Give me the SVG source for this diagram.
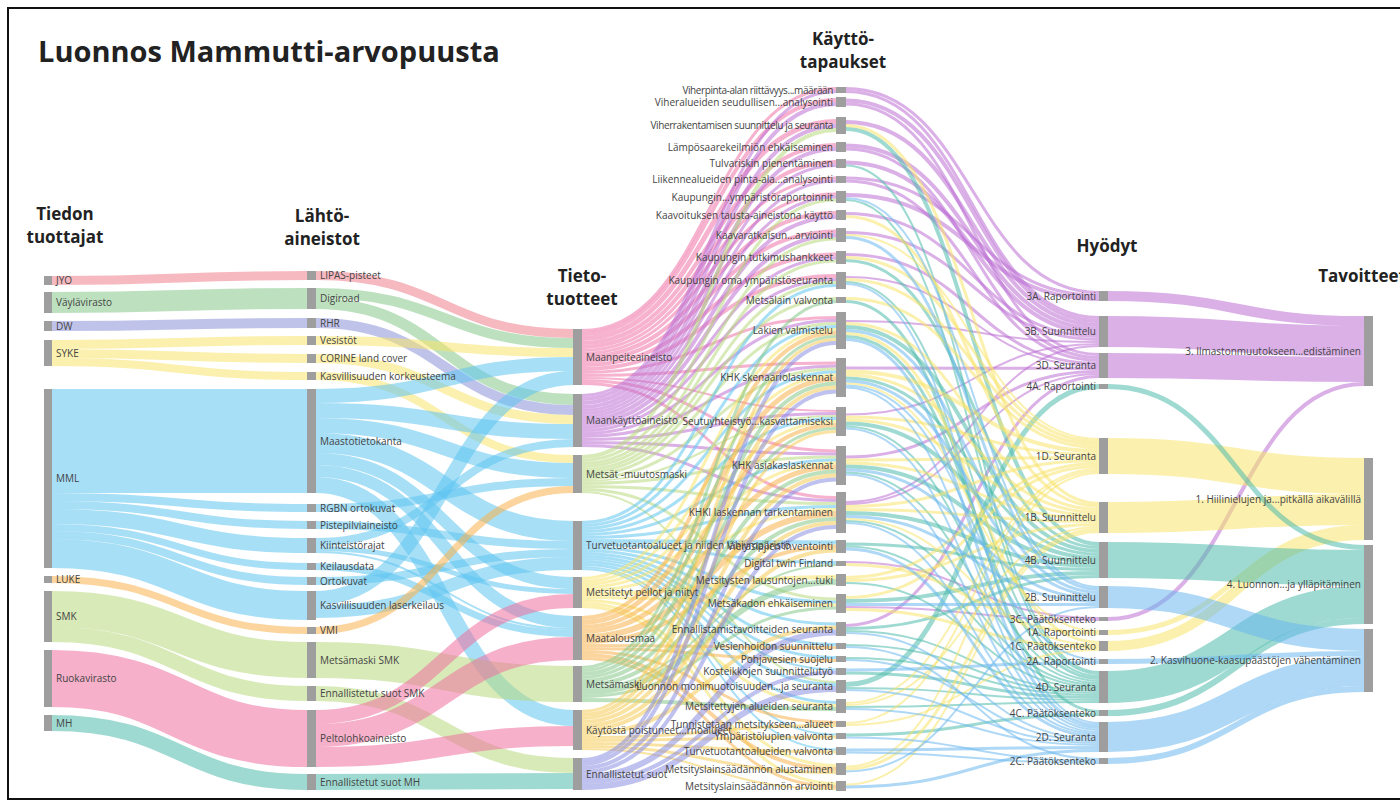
<svg xmlns="http://www.w3.org/2000/svg" width="1400" height="802" viewBox="0 0 1400 802">
<style>
.nd{fill:#9e9e9e}
.lb{font-family:"Open Sans","Noto Sans",sans-serif;font-size:10px;fill:#444}
.sm{letter-spacing:-0.4px}
.r{text-anchor:end}
.hd{font-family:"Open Sans","Noto Sans",sans-serif;font-size:17px;font-weight:bold;fill:#222;text-anchor:middle}
.ttl{font-family:"Open Sans","Noto Sans",sans-serif;font-size:29px;font-weight:bold;fill:#222}
path{fill:none;stroke-opacity:0.55}
.jyo{stroke:#f07f8c}.vay{stroke:#86c98a}.dw{stroke:#8a92d8}.syke{stroke:#f8e36a}.mml{stroke:#5ec4f0}
.luke{stroke:#f8b24c}.smk{stroke:#b8d87e}.ruoka{stroke:#ef6f9e}.mh{stroke:#4fbcab}
.pA{stroke:#ee73a6}.pB{stroke:#bb6fd3}.pC{stroke:#b8d87e}.pD{stroke:#5ec4f0}.pE{stroke:#f8e36a}
.pF{stroke:#f8b24c}.pG{stroke:#86c98a}.pH{stroke:#f5cc55}.pI{stroke:#8a8ee0}
.h3{stroke:#bb6fd3}.h1{stroke:#f8e36a}.h4{stroke:#4fbcab}.h2{stroke:#6cb8ee}
</style>
<rect x="0" y="0" width="1400" height="802" fill="#fff"/>
<rect x="8" y="8" width="1400" height="791" fill="none" stroke="#111" stroke-width="2"/>
<text class="ttl" x="38" y="62">Luonnos Mammutti-arvopuusta</text>
<g id="headers">
<text class="hd" x="65" y="220">Tiedon</text><text class="hd" x="65" y="243">tuottajat</text>
<text class="hd" x="322" y="222">Lähtö-</text><text class="hd" x="322" y="245">aineistot</text>
<text class="hd" x="582" y="282">Tieto-</text><text class="hd" x="582" y="305">tuotteet</text>
<text class="hd" x="843" y="45">Käyttö-</text><text class="hd" x="843" y="68">tapaukset</text>
<text class="hd" x="1107" y="252">Hyödyt</text>
<text class="hd" x="1362" y="282">Tavoitteet</text>
</g>
<g id="connectors">
<g id="l12">
<path class="jyo" stroke-width="9" d="M52 280.5C179.5 280.5 179.5 275.5 307 275.5"/>
<path class="vay" stroke-width="21" d="M52 302.5C179.5 302.5 179.5 298.5 307 298.5"/>
<path class="dw" stroke-width="10" d="M52 326C179.5 326 179.5 323 307 323"/>
<path class="syke" stroke-width="9" d="M52 344.5C179.5 344.5 179.5 340.5 307 340.5"/>
<path class="syke" stroke-width="9" d="M52 353.5C179.5 353.5 179.5 358.5 307 358.5"/>
<path class="syke" stroke-width="8" d="M52 362C179.5 362 179.5 376 307 376"/>
<path class="mml" stroke-width="104" d="M52 441C179.5 441 179.5 441 307 441"/>
<path class="mml" stroke-width="8" d="M52 497C179.5 497 179.5 508 307 508"/>
<path class="mml" stroke-width="8" d="M52 505C179.5 505 179.5 525 307 525"/>
<path class="mml" stroke-width="15" d="M52 516.5C179.5 516.5 179.5 545.5 307 545.5"/>
<path class="mml" stroke-width="7" d="M52 527.5C179.5 527.5 179.5 566.5 307 566.5"/>
<path class="mml" stroke-width="8" d="M52 535C179.5 535 179.5 581 307 581"/>
<path class="mml" stroke-width="29" d="M52 553.5C179.5 553.5 179.5 605.5 307 605.5"/>
<path class="luke" stroke-width="7" d="M52 579.5C179.5 579.5 179.5 630.5 307 630.5"/>
<path class="smk" stroke-width="36" d="M52 609C179.5 609 179.5 660 307 660"/>
<path class="smk" stroke-width="15" d="M52 634.5C179.5 634.5 179.5 693.5 307 693.5"/>
<path class="ruoka" stroke-width="57" d="M52 678.5C179.5 678.5 179.5 738.5 307 738.5"/>
<path class="mh" stroke-width="16" d="M52 723C179.5 723 179.5 782 307 782"/>
</g>
<g id="l23">
<path class="jyo" stroke-width="9" d="M316 275.5C444.5 275.5 444.5 333.5 573 333.5"/>
<path class="vay" stroke-width="10" d="M316 293C444.5 293 444.5 343 573 343"/>
<path class="vay" stroke-width="11" d="M316 303.5C444.5 303.5 444.5 399.5 573 399.5"/>
<path class="dw" stroke-width="10" d="M316 323C444.5 323 444.5 410 573 410"/>
<path class="syke" stroke-width="9" d="M316 340.5C444.5 340.5 444.5 352.5 573 352.5"/>
<path class="syke" stroke-width="9" d="M316 358.5C444.5 358.5 444.5 419.5 573 419.5"/>
<path class="syke" stroke-width="8" d="M316 376C444.5 376 444.5 459 573 459"/>
<path class="mml" stroke-width="14" d="M316 396C444.5 396 444.5 364 573 364"/>
<path class="mml" stroke-width="15" d="M316 410.5C444.5 410.5 444.5 431.5 573 431.5"/>
<path class="mml" stroke-width="15" d="M316 425.5C444.5 425.5 444.5 470.5 573 470.5"/>
<path class="mml" stroke-width="20" d="M316 443C444.5 443 444.5 531 573 531"/>
<path class="mml" stroke-width="12" d="M316 459C444.5 459 444.5 583 573 583"/>
<path class="mml" stroke-width="12" d="M316 471C444.5 471 444.5 622 573 622"/>
<path class="mml" stroke-width="16" d="M316 485C444.5 485 444.5 718 573 718"/>
<path class="mml" stroke-width="8" d="M316 508C444.5 508 444.5 482 573 482"/>
<path class="mml" stroke-width="8" d="M316 525C444.5 525 444.5 545 573 545"/>
<path class="mml" stroke-width="8" d="M316 542C444.5 542 444.5 443 573 443"/>
<path class="mml" stroke-width="5" d="M316 548.5C444.5 548.5 444.5 591.5 573 591.5"/>
<path class="mml" stroke-width="2" d="M316 552C444.5 552 444.5 629 573 629"/>
<path class="mml" stroke-width="7" d="M316 566.5C444.5 566.5 444.5 633.5 573 633.5"/>
<path class="mml" stroke-width="8" d="M316 581C444.5 581 444.5 553 573 553"/>
<path class="mml" stroke-width="14" d="M316 598C444.5 598 444.5 378 573 378"/>
<path class="mml" stroke-width="13" d="M316 611.5C444.5 611.5 444.5 563.5 573 563.5"/>
<path class="luke" stroke-width="7" d="M316 630.5C444.5 630.5 444.5 489.5 573 489.5"/>
<path class="smk" stroke-width="36" d="M316 660C444.5 660 444.5 684 573 684"/>
<path class="smk" stroke-width="15" d="M316 693.5C444.5 693.5 444.5 765.5 573 765.5"/>
<path class="ruoka" stroke-width="14" d="M316 717C444.5 717 444.5 601 573 601"/>
<path class="ruoka" stroke-width="23" d="M316 735.5C444.5 735.5 444.5 648.5 573 648.5"/>
<path class="ruoka" stroke-width="20" d="M316 757C444.5 757 444.5 736 573 736"/>
<path class="mh" stroke-width="16" d="M316 782C444.5 782 444.5 781 573 781"/>
</g>
<g id="l34">
<path class="pA" stroke-width="3" d="M582 330.5C709 330.5 709 88.5 836 88.5"/>
<path class="pA" stroke-width="4" d="M582 334C709 334 709 100 836 100"/>
<path class="pA" stroke-width="5" d="M582 338.5C709 338.5 709 121.5 836 121.5"/>
<path class="pA" stroke-width="4" d="M582 343C709 343 709 145 836 145"/>
<path class="pA" stroke-width="4" d="M582 347C709 347 709 162 836 162"/>
<path class="pA" stroke-width="3" d="M582 350.5C709 350.5 709 178 836 178"/>
<path class="pA" stroke-width="3" d="M582 353.5C709 353.5 709 194 836 194"/>
<path class="pA" stroke-width="4" d="M582 357C709 357 709 213 836 213"/>
<path class="pA" stroke-width="4" d="M582 361C709 361 709 231.5 836 231.5"/>
<path class="pA" stroke-width="4" d="M582 365C709 365 709 254.5 836 254.5"/>
<path class="pA" stroke-width="4" d="M582 369C709 369 709 276 836 276"/>
<path class="pA" stroke-width="3" d="M582 372.5C709 372.5 709 317.5 836 317.5"/>
<path class="pA" stroke-width="3" d="M582 375.5C709 375.5 709 363 836 363"/>
<path class="pA" stroke-width="2" d="M582 378C709 378 709 411 836 411"/>
<path class="pA" stroke-width="3" d="M582 380.5C709 380.5 709 451 836 451"/>
<path class="pA" stroke-width="3" d="M582 383.5C709 383.5 709 497.5 836 497.5"/>
<path class="pB" stroke-width="3" d="M582 395.5C709 395.5 709 91.5 836 91.5"/>
<path class="pB" stroke-width="4" d="M582 399C709 399 709 104 836 104"/>
<path class="pB" stroke-width="4" d="M582 403C709 403 709 126 836 126"/>
<path class="pB" stroke-width="4" d="M582 407C709 407 709 149 836 149"/>
<path class="pB" stroke-width="3" d="M582 410.5C709 410.5 709 165.5 836 165.5"/>
<path class="pB" stroke-width="3" d="M582 413.5C709 413.5 709 181 836 181"/>
<path class="pB" stroke-width="3" d="M582 416.5C709 416.5 709 197 836 197"/>
<path class="pB" stroke-width="4" d="M582 420C709 420 709 217 836 217"/>
<path class="pB" stroke-width="4" d="M582 424C709 424 709 235.5 836 235.5"/>
<path class="pB" stroke-width="3" d="M582 427.5C709 427.5 709 258 836 258"/>
<path class="pB" stroke-width="3" d="M582 430.5C709 430.5 709 279.5 836 279.5"/>
<path class="pB" stroke-width="3" d="M582 433.5C709 433.5 709 320.5 836 320.5"/>
<path class="pB" stroke-width="3" d="M582 436.5C709 436.5 709 366 836 366"/>
<path class="pB" stroke-width="3" d="M582 439.5C709 439.5 709 413.5 836 413.5"/>
<path class="pB" stroke-width="3" d="M582 442.5C709 442.5 709 454 836 454"/>
<path class="pB" stroke-width="3" d="M582 445.5C709 445.5 709 500.5 836 500.5"/>
<path class="pC" stroke-width="4" d="M582 457C709 457 709 130 836 130"/>
<path class="pC" stroke-width="3" d="M582 460.5C709 460.5 709 200 836 200"/>
<path class="pC" stroke-width="3" d="M582 463.5C709 463.5 709 239 836 239"/>
<path class="pC" stroke-width="3" d="M582 466.5C709 466.5 709 261 836 261"/>
<path class="pC" stroke-width="3" d="M582 469.5C709 469.5 709 282.5 836 282.5"/>
<path class="pC" stroke-width="3" d="M582 472.5C709 472.5 709 298.5 836 298.5"/>
<path class="pC" stroke-width="3" d="M582 475.5C709 475.5 709 323.5 836 323.5"/>
<path class="pC" stroke-width="3" d="M582 478.5C709 478.5 709 369 836 369"/>
<path class="pC" stroke-width="2" d="M582 481C709 481 709 416 836 416"/>
<path class="pC" stroke-width="3" d="M582 483.5C709 483.5 709 457 836 457"/>
<path class="pC" stroke-width="3" d="M582 486.5C709 486.5 709 503.5 836 503.5"/>
<path class="pC" stroke-width="3" d="M582 489.5C709 489.5 709 599 836 599"/>
<path class="pC" stroke-width="2" d="M582 492C709 492 709 682 836 682"/>
<path class="pD" stroke-width="3" d="M582 522.5C709 522.5 709 285.5 836 285.5"/>
<path class="pD" stroke-width="3" d="M582 525.5C709 525.5 709 326.5 836 326.5"/>
<path class="pD" stroke-width="3" d="M582 528.5C709 528.5 709 372 836 372"/>
<path class="pD" stroke-width="3" d="M582 531.5C709 531.5 709 418.5 836 418.5"/>
<path class="pD" stroke-width="3" d="M582 534.5C709 534.5 709 460 836 460"/>
<path class="pD" stroke-width="3" d="M582 537.5C709 537.5 709 506.5 836 506.5"/>
<path class="pD" stroke-width="4" d="M582 541C709 541 709 542.5 836 542.5"/>
<path class="pD" stroke-width="3" d="M582 544.5C709 544.5 709 562.5 836 562.5"/>
<path class="pD" stroke-width="3" d="M582 547.5C709 547.5 709 602 836 602"/>
<path class="pD" stroke-width="3" d="M582 550.5C709 550.5 709 624 836 624"/>
<path class="pD" stroke-width="3" d="M582 553.5C709 553.5 709 644.5 836 644.5"/>
<path class="pD" stroke-width="3" d="M582 556.5C709 556.5 709 657.5 836 657.5"/>
<path class="pD" stroke-width="2" d="M582 559C709 559 709 669.5 836 669.5"/>
<path class="pD" stroke-width="3" d="M582 561.5C709 561.5 709 684.5 836 684.5"/>
<path class="pD" stroke-width="3" d="M582 564.5C709 564.5 709 702.5 836 702.5"/>
<path class="pD" stroke-width="2" d="M582 567C709 567 709 734.5 836 734.5"/>
<path class="pD" stroke-width="2" d="M582 569C709 569 709 749.5 836 749.5"/>
<path class="pE" stroke-width="3" d="M582 578.5C709 578.5 709 329.5 836 329.5"/>
<path class="pE" stroke-width="3" d="M582 581.5C709 581.5 709 375 836 375"/>
<path class="pE" stroke-width="3" d="M582 584.5C709 584.5 709 421.5 836 421.5"/>
<path class="pE" stroke-width="3" d="M582 587.5C709 587.5 709 463 836 463"/>
<path class="pE" stroke-width="3" d="M582 590.5C709 590.5 709 509.5 836 509.5"/>
<path class="pE" stroke-width="4" d="M582 594C709 594 709 577 836 577"/>
<path class="pE" stroke-width="3" d="M582 597.5C709 597.5 709 605 836 605"/>
<path class="pE" stroke-width="3" d="M582 600.5C709 600.5 709 705.5 836 705.5"/>
<path class="pE" stroke-width="3" d="M582 603.5C709 603.5 709 765.5 836 765.5"/>
<path class="pE" stroke-width="3" d="M582 606.5C709 606.5 709 783.5 836 783.5"/>
<path class="pF" stroke-width="4" d="M582 618C709 618 709 333 836 333"/>
<path class="pF" stroke-width="5" d="M582 622.5C709 622.5 709 379 836 379"/>
<path class="pF" stroke-width="4" d="M582 627C709 627 709 425 836 425"/>
<path class="pF" stroke-width="5" d="M582 631.5C709 631.5 709 467 836 467"/>
<path class="pF" stroke-width="6" d="M582 637C709 637 709 514 836 514"/>
<path class="pF" stroke-width="4" d="M582 642C709 642 709 546.5 836 546.5"/>
<path class="pF" stroke-width="3" d="M582 645.5C709 645.5 709 647.5 836 647.5"/>
<path class="pF" stroke-width="3" d="M582 648.5C709 648.5 709 660.5 836 660.5"/>
<path class="pF" stroke-width="3" d="M582 651.5C709 651.5 709 722.5 836 722.5"/>
<path class="pF" stroke-width="4" d="M582 655C709 655 709 769 836 769"/>
<path class="pF" stroke-width="3" d="M582 658.5C709 658.5 709 786.5 836 786.5"/>
<path class="pG" stroke-width="3" d="M582 667.5C709 667.5 709 301.5 836 301.5"/>
<path class="pG" stroke-width="3" d="M582 670.5C709 670.5 709 336.5 836 336.5"/>
<path class="pG" stroke-width="4" d="M582 674C709 674 709 383.5 836 383.5"/>
<path class="pG" stroke-width="3" d="M582 677.5C709 677.5 709 428.5 836 428.5"/>
<path class="pG" stroke-width="4" d="M582 681C709 681 709 471.5 836 471.5"/>
<path class="pG" stroke-width="4" d="M582 685C709 685 709 519 836 519"/>
<path class="pG" stroke-width="2" d="M582 688C709 688 709 565 836 565"/>
<path class="pG" stroke-width="6" d="M582 692C709 692 709 582 836 582"/>
<path class="pG" stroke-width="3" d="M582 696.5C709 696.5 709 608 836 608"/>
<path class="pG" stroke-width="4" d="M582 700C709 700 709 709 836 709"/>
<path class="pH" stroke-width="3" d="M582 711.5C709 711.5 709 339.5 836 339.5"/>
<path class="pH" stroke-width="4" d="M582 715C709 715 709 387.5 836 387.5"/>
<path class="pH" stroke-width="3" d="M582 718.5C709 718.5 709 431.5 836 431.5"/>
<path class="pH" stroke-width="4" d="M582 722C709 722 709 475.5 836 475.5"/>
<path class="pH" stroke-width="4" d="M582 726C709 726 709 523 836 523"/>
<path class="pH" stroke-width="4" d="M582 730C709 730 709 550.5 836 550.5"/>
<path class="pH" stroke-width="4" d="M582 734C709 734 709 627.5 836 627.5"/>
<path class="pH" stroke-width="3" d="M582 737.5C709 737.5 709 725.5 836 725.5"/>
<path class="pH" stroke-width="3" d="M582 740.5C709 740.5 709 737 836 737"/>
<path class="pH" stroke-width="3" d="M582 743.5C709 743.5 709 752 836 752"/>
<path class="pH" stroke-width="3" d="M582 746.5C709 746.5 709 772.5 836 772.5"/>
<path class="pH" stroke-width="2" d="M582 749C709 749 709 789 836 789"/>
<path class="pI" stroke-width="4" d="M582 760C709 760 709 343 836 343"/>
<path class="pI" stroke-width="4" d="M582 764C709 764 709 391.5 836 391.5"/>
<path class="pI" stroke-width="4" d="M582 768C709 768 709 479.5 836 479.5"/>
<path class="pI" stroke-width="4" d="M582 772C709 772 709 527 836 527"/>
<path class="pI" stroke-width="6" d="M582 777C709 777 709 632.5 836 632.5"/>
<path class="pI" stroke-width="4" d="M582 782C709 782 709 672.5 836 672.5"/>
<path class="pI" stroke-width="6" d="M582 787C709 787 709 689 836 689"/>
</g>
<g id="l45">
<path class="h3" stroke-width="3" d="M846 88.5C972.5 88.5 972.5 292.5 1099 292.5"/>
<path class="h3" stroke-width="3" d="M846 178C972.5 178 972.5 295.5 1099 295.5"/>
<path class="h3" stroke-width="4" d="M846 195C972.5 195 972.5 299 1099 299"/>
<path class="h3" stroke-width="3" d="M846 91.5C972.5 91.5 972.5 317.5 1099 317.5"/>
<path class="h3" stroke-width="4" d="M846 100.5C972.5 100.5 972.5 321 1099 321"/>
<path class="h3" stroke-width="4" d="M846 122C972.5 122 972.5 325 1099 325"/>
<path class="h3" stroke-width="4" d="M846 145.5C972.5 145.5 972.5 329 1099 329"/>
<path class="h3" stroke-width="4" d="M846 162.5C972.5 162.5 972.5 333 1099 333"/>
<path class="h3" stroke-width="3" d="M846 213.5C972.5 213.5 972.5 336.5 1099 336.5"/>
<path class="h3" stroke-width="3" d="M846 232.5C972.5 232.5 972.5 339.5 1099 339.5"/>
<path class="h3" stroke-width="2" d="M846 321C972.5 321 972.5 342 1099 342"/>
<path class="h3" stroke-width="2" d="M846 414.5C972.5 414.5 972.5 344 1099 344"/>
<path class="h3" stroke-width="2" d="M846 502C972.5 502 972.5 346 1099 346"/>
<path class="h3" stroke-width="3" d="M846 104C972.5 104 972.5 354.5 1099 354.5"/>
<path class="h3" stroke-width="3" d="M846 149C972.5 149 972.5 357.5 1099 357.5"/>
<path class="h3" stroke-width="3" d="M846 181C972.5 181 972.5 360.5 1099 360.5"/>
<path class="h3" stroke-width="3" d="M846 254.5C972.5 254.5 972.5 363.5 1099 363.5"/>
<path class="h3" stroke-width="2" d="M846 277C972.5 277 972.5 366 1099 366"/>
<path class="h3" stroke-width="3" d="M846 368C972.5 368 972.5 368.5 1099 368.5"/>
<path class="h3" stroke-width="3" d="M846 457C972.5 457 972.5 371.5 1099 371.5"/>
<path class="h3" stroke-width="2" d="M846 504C972.5 504 972.5 374 1099 374"/>
<path class="h3" stroke-width="3" d="M846 625.5C972.5 625.5 972.5 376.5 1099 376.5"/>
<path class="h3" stroke-width="2" d="M846 562C972.5 562 972.5 618 1099 618"/>
<path class="h3" stroke-width="2" d="M846 607C972.5 607 972.5 620 1099 620"/>
<path class="h4" stroke-width="5" d="M846 684.5C972.5 684.5 972.5 386.5 1099 386.5"/>
<path class="h4" stroke-width="4" d="M846 129C972.5 129 972.5 544 1099 544"/>
<path class="h4" stroke-width="3" d="M846 260.5C972.5 260.5 972.5 547.5 1099 547.5"/>
<path class="h4" stroke-width="4" d="M846 327C972.5 327 972.5 551 1099 551"/>
<path class="h4" stroke-width="3" d="M846 378C972.5 378 972.5 554.5 1099 554.5"/>
<path class="h4" stroke-width="4" d="M846 423.5C972.5 423.5 972.5 558 1099 558"/>
<path class="h4" stroke-width="4" d="M846 466.5C972.5 466.5 972.5 562 1099 562"/>
<path class="h4" stroke-width="4" d="M846 513C972.5 513 972.5 566 1099 566"/>
<path class="h4" stroke-width="3" d="M846 544C972.5 544 972.5 569.5 1099 569.5"/>
<path class="h4" stroke-width="4" d="M846 601C972.5 601 972.5 573 1099 573"/>
<path class="h4" stroke-width="3" d="M846 628.5C972.5 628.5 972.5 576.5 1099 576.5"/>
<path class="h4" stroke-width="2" d="M846 165.5C972.5 165.5 972.5 672 1099 672"/>
<path class="h4" stroke-width="2" d="M846 200C972.5 200 972.5 674 1099 674"/>
<path class="h4" stroke-width="2" d="M846 282C972.5 282 972.5 676 1099 676"/>
<path class="h4" stroke-width="3" d="M846 336.5C972.5 336.5 972.5 678.5 1099 678.5"/>
<path class="h4" stroke-width="2" d="M846 426.5C972.5 426.5 972.5 681 1099 681"/>
<path class="h4" stroke-width="2" d="M846 472.5C972.5 472.5 972.5 683 1099 683"/>
<path class="h4" stroke-width="2" d="M846 521C972.5 521 972.5 685 1099 685"/>
<path class="h4" stroke-width="2" d="M846 546.5C972.5 546.5 972.5 687 1099 687"/>
<path class="h4" stroke-width="2" d="M846 583C972.5 583 972.5 689 1099 689"/>
<path class="h4" stroke-width="2" d="M846 631C972.5 631 972.5 691 1099 691"/>
<path class="h4" stroke-width="2" d="M846 645C972.5 645 972.5 693 1099 693"/>
<path class="h4" stroke-width="2" d="M846 658C972.5 658 972.5 695 1099 695"/>
<path class="h4" stroke-width="3" d="M846 673C972.5 673 972.5 697.5 1099 697.5"/>
<path class="h4" stroke-width="2" d="M846 688C972.5 688 972.5 700 1099 700"/>
<path class="h4" stroke-width="2" d="M846 707C972.5 707 972.5 702 1099 702"/>
<path class="h4" stroke-width="3" d="M846 301.5C972.5 301.5 972.5 711.5 1099 711.5"/>
<path class="h4" stroke-width="3" d="M846 735C972.5 735 972.5 714.5 1099 714.5"/>
<path class="h1" stroke-width="2" d="M846 235C972.5 235 972.5 439 1099 439"/>
<path class="h1" stroke-width="3" d="M846 257.5C972.5 257.5 972.5 441.5 1099 441.5"/>
<path class="h1" stroke-width="3" d="M846 279.5C972.5 279.5 972.5 444.5 1099 444.5"/>
<path class="h1" stroke-width="3" d="M846 298.5C972.5 298.5 972.5 447.5 1099 447.5"/>
<path class="h1" stroke-width="4" d="M846 371.5C972.5 371.5 972.5 451 1099 451"/>
<path class="h1" stroke-width="3" d="M846 417C972.5 417 972.5 454.5 1099 454.5"/>
<path class="h1" stroke-width="3" d="M846 460C972.5 460 972.5 457.5 1099 457.5"/>
<path class="h1" stroke-width="3" d="M846 506.5C972.5 506.5 972.5 460.5 1099 460.5"/>
<path class="h1" stroke-width="3" d="M846 577.5C972.5 577.5 972.5 463.5 1099 463.5"/>
<path class="h1" stroke-width="3" d="M846 597.5C972.5 597.5 972.5 466.5 1099 466.5"/>
<path class="h1" stroke-width="2" d="M846 703C972.5 703 972.5 469 1099 469"/>
<path class="h1" stroke-width="2" d="M846 723C972.5 723 972.5 471 1099 471"/>
<path class="h1" stroke-width="2" d="M846 766.5C972.5 766.5 972.5 473 1099 473"/>
<path class="h1" stroke-width="3" d="M846 125.5C972.5 125.5 972.5 503.5 1099 503.5"/>
<path class="h1" stroke-width="3" d="M846 216.5C972.5 216.5 972.5 506.5 1099 506.5"/>
<path class="h1" stroke-width="3" d="M846 323.5C972.5 323.5 972.5 509.5 1099 509.5"/>
<path class="h1" stroke-width="3" d="M846 375C972.5 375 972.5 512.5 1099 512.5"/>
<path class="h1" stroke-width="3" d="M846 420C972.5 420 972.5 515.5 1099 515.5"/>
<path class="h1" stroke-width="3" d="M846 463C972.5 463 972.5 518.5 1099 518.5"/>
<path class="h1" stroke-width="3" d="M846 509.5C972.5 509.5 972.5 521.5 1099 521.5"/>
<path class="h1" stroke-width="3" d="M846 580.5C972.5 580.5 972.5 524.5 1099 524.5"/>
<path class="h1" stroke-width="2" d="M846 705C972.5 705 972.5 527 1099 527"/>
<path class="h1" stroke-width="3" d="M846 769C972.5 769 972.5 529.5 1099 529.5"/>
<path class="h1" stroke-width="2" d="M846 784.5C972.5 784.5 972.5 532 1099 532"/>
<path class="h1" stroke-width="2" d="M846 383.5C972.5 383.5 972.5 631 1099 631"/>
<path class="h1" stroke-width="3" d="M846 564.5C972.5 564.5 972.5 633.5 1099 633.5"/>
<path class="h1" stroke-width="3" d="M846 333.5C972.5 333.5 972.5 642.5 1099 642.5"/>
<path class="h1" stroke-width="2" d="M846 519C972.5 519 972.5 645 1099 645"/>
<path class="h1" stroke-width="3" d="M846 609.5C972.5 609.5 972.5 647.5 1099 647.5"/>
<path class="h1" stroke-width="2" d="M846 725C972.5 725 972.5 650 1099 650"/>
<path class="h2" stroke-width="2" d="M846 198C972.5 198 972.5 587 1099 587"/>
<path class="h2" stroke-width="3" d="M846 237.5C972.5 237.5 972.5 589.5 1099 589.5"/>
<path class="h2" stroke-width="3" d="M846 330.5C972.5 330.5 972.5 592.5 1099 592.5"/>
<path class="h2" stroke-width="3" d="M846 381C972.5 381 972.5 595.5 1099 595.5"/>
<path class="h2" stroke-width="3" d="M846 470C972.5 470 972.5 598.5 1099 598.5"/>
<path class="h2" stroke-width="3" d="M846 516.5C972.5 516.5 972.5 601.5 1099 601.5"/>
<path class="h2" stroke-width="3" d="M846 604.5C972.5 604.5 972.5 604.5 1099 604.5"/>
<path class="h2" stroke-width="2" d="M846 771.5C972.5 771.5 972.5 607 1099 607"/>
<path class="h2" stroke-width="2" d="M846 385.5C972.5 385.5 972.5 660 1099 660"/>
<path class="h2" stroke-width="3" d="M846 670C972.5 670 972.5 662.5 1099 662.5"/>
<path class="h2" stroke-width="2" d="M846 284C972.5 284 972.5 723 1099 723"/>
<path class="h2" stroke-width="3" d="M846 339.5C972.5 339.5 972.5 725.5 1099 725.5"/>
<path class="h2" stroke-width="2" d="M846 387.5C972.5 387.5 972.5 728 1099 728"/>
<path class="h2" stroke-width="2" d="M846 428.5C972.5 428.5 972.5 730 1099 730"/>
<path class="h2" stroke-width="2" d="M846 474.5C972.5 474.5 972.5 732 1099 732"/>
<path class="h2" stroke-width="2" d="M846 523C972.5 523 972.5 734 1099 734"/>
<path class="h2" stroke-width="3" d="M846 549C972.5 549 972.5 736.5 1099 736.5"/>
<path class="h2" stroke-width="2" d="M846 633C972.5 633 972.5 739 1099 739"/>
<path class="h2" stroke-width="2" d="M846 660C972.5 660 972.5 741 1099 741"/>
<path class="h2" stroke-width="2" d="M846 690C972.5 690 972.5 743 1099 743"/>
<path class="h2" stroke-width="2" d="M846 709C972.5 709 972.5 745 1099 745"/>
<path class="h2" stroke-width="3" d="M846 750C972.5 750 972.5 747.5 1099 747.5"/>
<path class="h2" stroke-width="3" d="M846 787C972.5 787 972.5 750.5 1099 750.5"/>
<path class="h2" stroke-width="2" d="M846 647C972.5 647 972.5 759 1099 759"/>
<path class="h2" stroke-width="2" d="M846 737.5C972.5 737.5 972.5 761 1099 761"/>
<path class="h2" stroke-width="2" d="M846 752.5C972.5 752.5 972.5 763 1099 763"/>
</g>
<g id="l56">
<path class="h3" stroke-width="10" d="M1108 296C1236 296 1236 321 1364 321"/>
<path class="h3" stroke-width="31" d="M1108 331.5C1236 331.5 1236 341.5 1364 341.5"/>
<path class="h3" stroke-width="25" d="M1108 365.5C1236 365.5 1236 369.5 1364 369.5"/>
<path class="h3" stroke-width="4" d="M1108 619C1236 619 1236 384 1364 384"/>
<path class="h1" stroke-width="36" d="M1108 456C1236 456 1236 476 1364 476"/>
<path class="h1" stroke-width="31" d="M1108 517.5C1236 517.5 1236 509.5 1364 509.5"/>
<path class="h1" stroke-width="5" d="M1108 632.5C1236 632.5 1236 527.5 1364 527.5"/>
<path class="h1" stroke-width="10" d="M1108 646C1236 646 1236 535 1364 535"/>
<path class="h4" stroke-width="5" d="M1108 386.5C1236 386.5 1236 547.5 1364 547.5"/>
<path class="h4" stroke-width="36" d="M1108 560C1236 560 1236 568 1364 568"/>
<path class="h4" stroke-width="32" d="M1108 687C1236 687 1236 602 1364 602"/>
<path class="h4" stroke-width="6" d="M1108 713C1236 713 1236 621 1364 621"/>
<path class="h2" stroke-width="22" d="M1108 597C1236 597 1236 640 1364 640"/>
<path class="h2" stroke-width="5" d="M1108 661.5C1236 661.5 1236 653.5 1364 653.5"/>
<path class="h2" stroke-width="30" d="M1108 737C1236 737 1236 671 1364 671"/>
<path class="h2" stroke-width="6" d="M1108 761C1236 761 1236 689 1364 689"/>
</g>
</g>
<g id="col1">
<g id="n-jyo"><rect class="nd" x="44" y="276" width="8" height="9"/><text class="lb" x="56" y="284">JYO</text></g>
<g id="n-vaylavirasto"><rect class="nd" x="44" y="292" width="8" height="21"/><text class="lb" x="56" y="306">Väylävirasto</text></g>
<g id="n-dw"><rect class="nd" x="44" y="321" width="8" height="10"/><text class="lb" x="56" y="329.5">DW</text></g>
<g id="n-syke"><rect class="nd" x="44" y="340" width="8" height="26"/><text class="lb" x="56" y="356.5">SYKE</text></g>
<g id="n-mml"><rect class="nd" x="44" y="389" width="8" height="179"/><text class="lb" x="56" y="482">MML</text></g>
<g id="n-luke"><rect class="nd" x="44" y="576" width="8" height="7"/><text class="lb" x="56" y="583">LUKE</text></g>
<g id="n-smk"><rect class="nd" x="44" y="591" width="8" height="51"/><text class="lb" x="56" y="620">SMK</text></g>
<g id="n-ruokavirasto"><rect class="nd" x="44" y="650" width="8" height="57"/><text class="lb" x="56" y="682">Ruokavirasto</text></g>
<g id="n-mh"><rect class="nd" x="44" y="715" width="8" height="16"/><text class="lb" x="56" y="726.5">MH</text></g>
</g>
<g id="col2">
<g id="n-lipas"><rect class="nd" x="307" y="271" width="9" height="9"/><text class="lb" x="320" y="279">LIPAS-pisteet</text></g>
<g id="n-digiroad"><rect class="nd" x="307" y="288" width="9" height="21"/><text class="lb" x="320" y="302">Digiroad</text></g>
<g id="n-rhr"><rect class="nd" x="307" y="318" width="9" height="10"/><text class="lb" x="320" y="326.5">RHR</text></g>
<g id="n-vesistot"><rect class="nd" x="307" y="336" width="9" height="9"/><text class="lb" x="320" y="344">Vesistöt</text></g>
<g id="n-corine"><rect class="nd" x="307" y="354" width="9" height="9"/><text class="lb" x="320" y="362">CORINE land cover</text></g>
<g id="n-korkeus"><rect class="nd" x="307" y="372" width="9" height="8"/><text class="lb" x="320" y="379.5">Kasvillisuuden korkeusteema</text></g>
<g id="n-maasto"><rect class="nd" x="307" y="389" width="9" height="104"/><text class="lb" x="320" y="444.5">Maastotietokanta</text></g>
<g id="n-rgbn"><rect class="nd" x="307" y="504" width="9" height="8"/><text class="lb" x="320" y="511.5">RGBN ortokuvat</text></g>
<g id="n-pistepilvi"><rect class="nd" x="307" y="521" width="9" height="8"/><text class="lb" x="320" y="528.5">Pistepilviaineisto</text></g>
<g id="n-kiinteisto"><rect class="nd" x="307" y="538" width="9" height="15"/><text class="lb" x="320" y="549">Kiinteistörajat</text></g>
<g id="n-keilaus"><rect class="nd" x="307" y="563" width="9" height="7"/><text class="lb" x="320" y="570">Keilausdata</text></g>
<g id="n-orto"><rect class="nd" x="307" y="577" width="9" height="8"/><text class="lb" x="320" y="584.5">Ortokuvat</text></g>
<g id="n-laser"><rect class="nd" x="307" y="591" width="9" height="29"/><text class="lb" x="320" y="609">Kasvillisuuden laserkeilaus</text></g>
<g id="n-vmi"><rect class="nd" x="307" y="627" width="9" height="7"/><text class="lb" x="320" y="634">VMI</text></g>
<g id="n-metsamaski-smk"><rect class="nd" x="307" y="642" width="9" height="36"/><text class="lb" x="320" y="663.5">Metsämaski SMK</text></g>
<g id="n-enn-smk"><rect class="nd" x="307" y="686" width="9" height="15"/><text class="lb" x="320" y="697">Ennallistetut suot SMK</text></g>
<g id="n-pelto"><rect class="nd" x="307" y="710" width="9" height="57"/><text class="lb" x="320" y="742">Peltolohkoaineisto</text></g>
<g id="n-enn-mh"><rect class="nd" x="307" y="774" width="9" height="16"/><text class="lb" x="320" y="785.5">Ennallistetut suot MH</text></g>
</g>
<g id="col3">
<g id="n-maanpeite"><rect class="nd" x="573" y="329" width="9" height="56"/><text class="lb" x="586" y="360.5">Maanpeiteaineisto</text></g>
<g id="n-maankaytto"><rect class="nd" x="573" y="394" width="9" height="53"/><text class="lb" x="586" y="424">Maankäyttöaineisto</text></g>
<g id="n-metsat"><rect class="nd" x="573" y="455" width="9" height="38"/><text class="lb" x="586" y="477.5">Metsät -muutosmaski</text></g>
<g id="n-turve"><rect class="nd" x="573" y="521" width="9" height="49"/><text class="lb" x="586" y="549">Turvetuotantoalueet ja niiden lähiympäristö</text></g>
<g id="n-metsitetyt"><rect class="nd" x="573" y="577" width="9" height="31"/><text class="lb" x="586" y="596">Metsitetyt pellot ja niityt</text></g>
<g id="n-maatalous"><rect class="nd" x="573" y="616" width="9" height="44"/><text class="lb" x="586" y="641.5">Maatalousmaa</text></g>
<g id="n-metsamaski"><rect class="nd" x="573" y="666" width="9" height="36"/><text class="lb" x="586" y="687.5">Metsämaski</text></g>
<g id="n-kaytosta"><rect class="nd" x="573" y="710" width="9" height="40"/><text class="lb" x="586" y="733.5">Käytöstä poistuneet...rnoalueet</text></g>
<g id="n-ennallistetut"><rect class="nd" x="573" y="758" width="9" height="32"/><text class="lb" x="586" y="777.5">Ennallistetut suot</text></g>
</g>
<g id="col4">
<g id="u1"><rect class="nd" x="836" y="87" width="10" height="6"/><text class="lb r sm" x="833" y="93.5">Viherpinta-alan riittävyys...määrään</text></g>
<g id="u2"><rect class="nd" x="836" y="97" width="10" height="10"/><text class="lb r" x="833" y="105.5">Viheralueiden seudullisen...analysointi</text></g>
<g id="u3"><rect class="nd" x="836" y="117" width="10" height="17"/><text class="lb r sm" x="833" y="129">Viherrakentamisen suunnittelu ja seuranta</text></g>
<g id="u4"><rect class="nd" x="836" y="142" width="10" height="10"/><text class="lb r" x="833" y="150.5">Lämpösaarekeilmiön ehkäiseminen</text></g>
<g id="u5"><rect class="nd" x="836" y="159" width="10" height="9"/><text class="lb r" x="833" y="167">Tulvariskin pienentäminen</text></g>
<g id="u6"><rect class="nd" x="836" y="176" width="10" height="7"/><text class="lb r" x="833" y="183">Liikennealueiden pinta-ala...analysointi</text></g>
<g id="u7"><rect class="nd" x="836" y="191" width="10" height="12"/><text class="lb r" x="833" y="200.5">Kaupungin...ympäristöraportoinnit</text></g>
<g id="u8"><rect class="nd" x="836" y="210" width="10" height="10"/><text class="lb r" x="833" y="218.5">Kaavoituksen tausta-aineistona käyttö</text></g>
<g id="u9"><rect class="nd" x="836" y="228" width="10" height="14"/><text class="lb r" x="833" y="238.5">Kaavaratkaisun...arviointi</text></g>
<g id="u10"><rect class="nd" x="836" y="251" width="10" height="13"/><text class="lb r" x="833" y="261">Kaupungin tutkimushankkeet</text></g>
<g id="u11"><rect class="nd" x="836" y="272" width="10" height="17"/><text class="lb r" x="833" y="284">Kaupungin oma ympäristöseuranta</text></g>
<g id="u12"><rect class="nd" x="836" y="297" width="10" height="6"/><text class="lb r" x="833" y="303.5">Metsälain valvonta</text></g>
<g id="u13"><rect class="nd" x="836" y="312" width="10" height="37"/><text class="lb r" x="833" y="334">Lakien valmistelu</text></g>
<g id="u14"><rect class="nd" x="836" y="358" width="10" height="39"/><text class="lb r" x="833" y="381">KHK skenaariolaskennat</text></g>
<g id="u15"><rect class="nd" x="836" y="407" width="10" height="29"/><text class="lb r" x="833" y="425">Seutuyhteistyö...kasvattamiseksi</text></g>
<g id="u16"><rect class="nd" x="836" y="446" width="10" height="39"/><text class="lb r" x="833" y="469">KHK asiakaslaskennat</text></g>
<g id="u17"><rect class="nd" x="836" y="492" width="10" height="41"/><text class="lb r" x="833" y="516">KHKI laskennan tarkentaminen</text></g>
<g id="u18"><rect class="nd" x="836" y="540" width="10" height="13"/><text class="lb r" x="833" y="550">Vieraslajien inventointi</text></g>
<g id="u19"><rect class="nd" x="836" y="561" width="10" height="5"/><text class="lb r" x="833" y="567">Digital twin Finland</text></g>
<g id="u20"><rect class="nd" x="836" y="574" width="10" height="12"/><text class="lb r" x="833" y="583.5">Metsitysten lausuntojen...tuki</text></g>
<g id="u21"><rect class="nd" x="836" y="594" width="10" height="19"/><text class="lb r" x="833" y="607">Metsäkadon ehkäiseminen</text></g>
<g id="u22"><rect class="nd" x="836" y="622" width="10" height="14"/><text class="lb r" x="833" y="632.5">Ennallistamistavoitteiden seuranta</text></g>
<g id="u23"><rect class="nd" x="836" y="643" width="10" height="6"/><text class="lb r" x="833" y="649.5">Vesienhoidon suunnittelu</text></g>
<g id="u24"><rect class="nd" x="836" y="656" width="10" height="6"/><text class="lb r" x="833" y="662.5">Pohjavesien suojelu</text></g>
<g id="u25"><rect class="nd" x="836" y="668" width="10" height="7"/><text class="lb r" x="833" y="675">Kosteikkojen suunnittelutyö</text></g>
<g id="u26"><rect class="nd" x="836" y="680" width="10" height="13"/><text class="lb r" x="833" y="690">Luonnon monimuotoisuuden...ja seuranta</text></g>
<g id="u27"><rect class="nd" x="836" y="699" width="10" height="14"/><text class="lb r" x="833" y="709.5">Metsitettyjen alueiden seuranta</text></g>
<g id="u28"><rect class="nd" x="836" y="721" width="10" height="6"/><text class="lb r" x="833" y="727.5">Tunnistetaan metsitykseen...alueet</text></g>
<g id="u29"><rect class="nd" x="836" y="733" width="10" height="6"/><text class="lb r" x="833" y="739.5">Ympäristölupien valvonta</text></g>
<g id="u30"><rect class="nd" x="836" y="747" width="10" height="8"/><text class="lb r" x="833" y="754.5">Turvetuotantoalueiden valvonta</text></g>
<g id="u31"><rect class="nd" x="836" y="763" width="10" height="12"/><text class="lb r" x="833" y="772.5">Metsityslainsäädännön alustaminen</text></g>
<g id="u32"><rect class="nd" x="836" y="781" width="10" height="10"/><text class="lb r" x="833" y="789.5">Metsityslainsäädännön arviointi</text></g>
</g>
<g id="col5">
<g id="h-3a"><rect class="nd" x="1099" y="291" width="9" height="10"/><text class="lb r" x="1096" y="299.5">3A. Raportointi</text></g>
<g id="h-3b"><rect class="nd" x="1099" y="316" width="9" height="31"/><text class="lb r" x="1096" y="335">3B. Suunnittelu</text></g>
<g id="h-3d"><rect class="nd" x="1099" y="353" width="9" height="25"/><text class="lb r" x="1096" y="369">3D. Seuranta</text></g>
<g id="h-4a"><rect class="nd" x="1099" y="384" width="9" height="5"/><text class="lb r" x="1096" y="390">4A. Raportointi</text></g>
<g id="h-1d"><rect class="nd" x="1099" y="438" width="9" height="36"/><text class="lb r" x="1096" y="459.5">1D. Seuranta</text></g>
<g id="h-1b"><rect class="nd" x="1099" y="502" width="9" height="31"/><text class="lb r" x="1096" y="521">1B. Suunnittelu</text></g>
<g id="h-4b"><rect class="nd" x="1099" y="542" width="9" height="36"/><text class="lb r" x="1096" y="563.5">4B. Suunnittelu</text></g>
<g id="h-2b"><rect class="nd" x="1099" y="586" width="9" height="22"/><text class="lb r" x="1096" y="600.5">2B. Suunnittelu</text></g>
<g id="h-3c"><rect class="nd" x="1099" y="617" width="9" height="4"/><text class="lb r" x="1096" y="622.5">3C. Päätöksenteko</text></g>
<g id="h-1a"><rect class="nd" x="1099" y="630" width="9" height="5"/><text class="lb r" x="1096" y="636">1A. Raportointi</text></g>
<g id="h-1c"><rect class="nd" x="1099" y="641" width="9" height="10"/><text class="lb r" x="1096" y="649.5">1C. Päätöksenteko</text></g>
<g id="h-2a"><rect class="nd" x="1099" y="659" width="9" height="5"/><text class="lb r" x="1096" y="665">2A. Raportointi</text></g>
<g id="h-4d"><rect class="nd" x="1099" y="671" width="9" height="32"/><text class="lb r" x="1096" y="690.5">4D. Seuranta</text></g>
<g id="h-4c"><rect class="nd" x="1099" y="710" width="9" height="6"/><text class="lb r" x="1096" y="716.5">4C. Päätöksenteko</text></g>
<g id="h-2d"><rect class="nd" x="1099" y="722" width="9" height="30"/><text class="lb r" x="1096" y="740.5">2D. Seuranta</text></g>
<g id="h-2c"><rect class="nd" x="1099" y="758" width="9" height="6"/><text class="lb r" x="1096" y="764.5">2C. Päätöksenteko</text></g>
</g>
<g id="col6">
<g id="t-3"><rect class="nd" x="1364" y="316" width="9" height="70"/><text class="lb r" x="1361" y="354.5">3. Ilmastonmuutokseen...edistäminen</text></g>
<g id="t-1"><rect class="nd" x="1364" y="458" width="9" height="82"/><text class="lb r" x="1361" y="502.5">1. Hiilinielujen ja...pitkällä aikavälillä</text></g>
<g id="t-4"><rect class="nd" x="1364" y="545" width="9" height="79"/><text class="lb r" x="1361" y="588">4. Luonnon...ja ylläpitäminen</text></g>
<g id="t-2"><rect class="nd" x="1364" y="629" width="9" height="63"/><text class="lb r" x="1361" y="664">2. Kasvihuone-kaasupäästöjen vähentäminen</text></g>
</g>
</svg>
